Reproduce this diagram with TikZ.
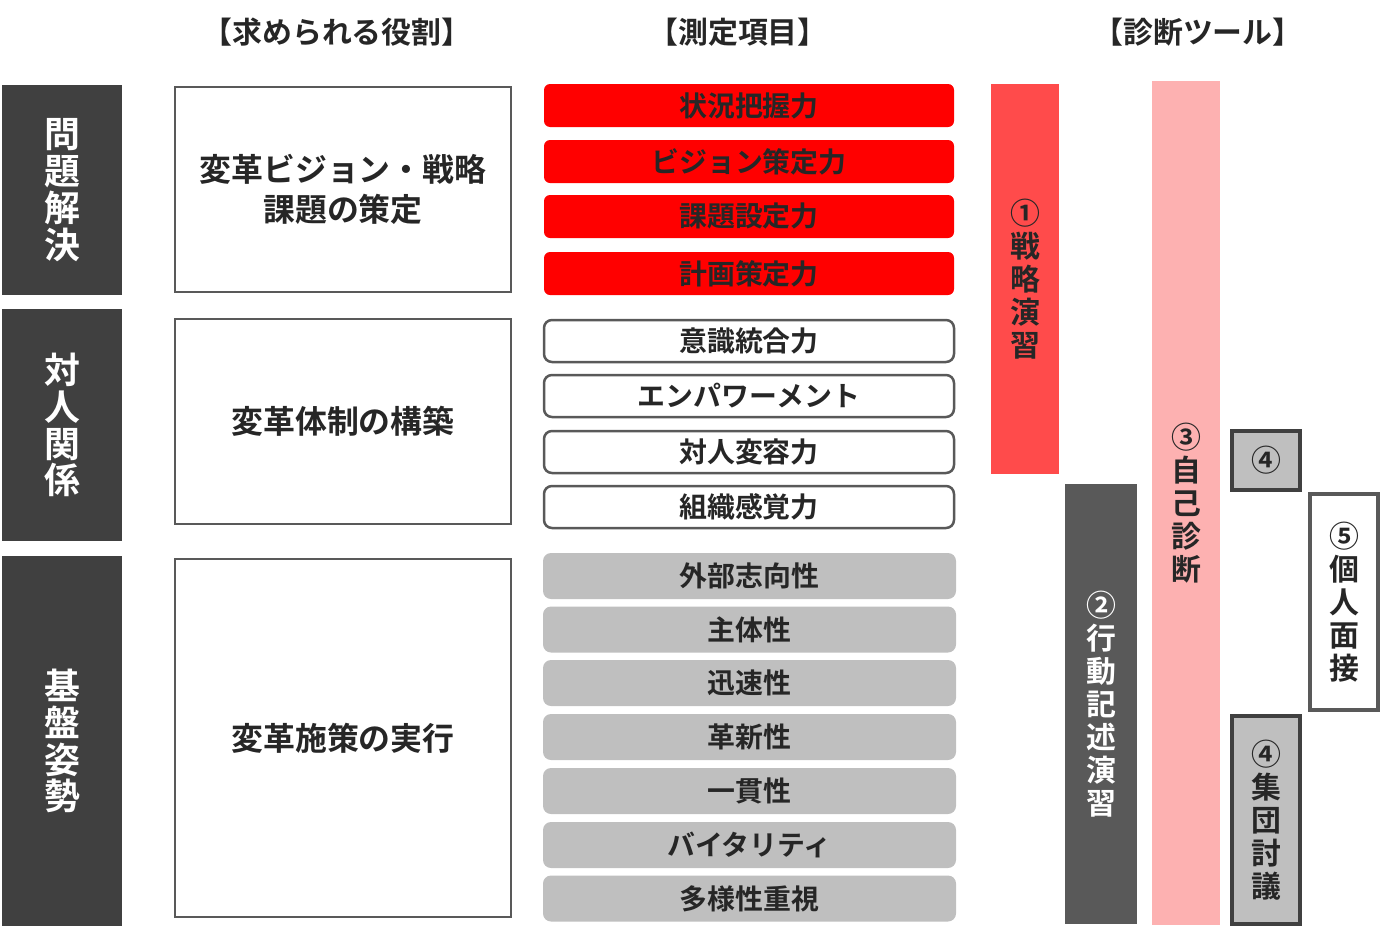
\documentclass[tikz,border=0pt]{standalone}
\usepackage{fontspec}
\usepackage{tikz}
\newfontfamily\jpb{Noto Sans CJK JP}[UprightFont=* Bold]
\definecolor{catgray}{HTML}{404040}
\definecolor{linegray}{HTML}{595959}
\definecolor{txtdark}{HTML}{262626}
\definecolor{itemred}{HTML}{FF0000}
\definecolor{itemgrey}{HTML}{BFBFBF}
\definecolor{toolred}{HTML}{FF4B4B}
\definecolor{toolpink}{HTML}{FDB1B1}
\tikzset{
    catbar/.style={fill=catgray, text=white, minimum width=120bp, inner sep=0pt,
        align=center, font=\jpb\fontsize{36}{37}\selectfont},
    rolebox/.style={draw=linegray, line width=2.5bp, fill=white, text=txtdark,
        minimum width=336bp, inner sep=0pt, align=center,
        font=\jpb\fontsize{32}{40}\selectfont},
    itembox/.style={minimum width=410bp, inner sep=0pt, text=txtdark,
        font=\jpb\fontsize{28}{30}\selectfont},
    head/.style={text=txtdark, inner sep=0pt, font=\jpb\fontsize{30}{32}\selectfont},
    toolbar/.style={inner sep=0pt, align=center, text=txtdark,
        font=\jpb\fontsize{30}{33}\selectfont}
}
\begin{document}
\begin{tikzpicture}[x=1bp, y=-1bp]
    \useasboundingbox (0,0) rectangle (1381,927);
    % headers
    \node[head] (hrole) at (337,32) {【求められる役割】};
    \node[head] (hitem) at (738,32) {【測定項目】};
    \node[head] (htool) at (1198,32) {【診断ツール】};
    % categories
    \node[catbar, minimum height=210bp] (solve) at (62,190) {問\\題\\解\\決};
    \node[catbar, minimum height=232bp] (inter) at (62,425) {対\\人\\関\\係};
    \node[catbar, minimum height=370bp] (base) at (62,741) {基\\盤\\姿\\勢};
    % roles
    \node[rolebox, minimum height=205bp] (role1) at (343,189.5)
        {変革ビジョン・戦略\\課題の策定};
    \node[rolebox, minimum height=205bp] (role2) at (343,421.5) {変革体制の構築};
    \node[rolebox, minimum height=358bp] (role3) at (343,738) {変革施策の実行};
    % items
    \foreach \y/\t [count=\i] in {105.5/状況把握力, 161.5/ビジョン策定力,
        216.5/課題設定力, 273.5/計画策定力} {
        \node[itembox, fill=itemred, rounded corners=6bp, minimum height=43bp]
            (red\i) at (749,\y) {\t};
    }
    \foreach \y/\t [count=\i] in {341/意識統合力, 396/エンパワーメント,
        452/対人変容力, 507/組織感覚力} {
        \node[itembox, draw=linegray, line width=2.5bp, fill=white,
            rounded corners=8bp, minimum height=42bp] (white\i) at (749,\y) {\t};
    }
    \foreach \y/\t [count=\i] in {576/外部志向性, 629.5/主体性, 683/迅速性,
        737/革新性, 791/一貫性, 845/バイタリティ, 898.5/多様性重視} {
        \node[itembox, fill=itemgrey, rounded corners=8bp, minimum width=413bp,
            minimum height=46bp] (grey\i) at (749.5,\y) {\t};
    }
    % tools
    \node[toolbar, fill=toolred, minimum width=68bp, minimum height=390bp]
        (tool1) at (1025,279) {①\\戦\\略\\演\\習};
    \node[toolbar, fill=linegray, text=white, minimum width=72bp,
        minimum height=440bp] (tool2) at (1101,704) {②\\行\\動\\記\\述\\演\\習};
    \node[toolbar, fill=toolpink, minimum width=68bp, minimum height=844bp]
        (tool3) at (1186,503) {③\\自\\己\\診\\断};
    \node[toolbar, fill=itemgrey, draw=catgray, line width=4bp, minimum width=68bp,
        minimum height=59bp] (tool4a) at (1266,460.5) {④};
    \node[toolbar, fill=white, draw=linegray, line width=3.5bp, minimum width=68bp,
        minimum height=216bp] (tool5) at (1344,602) {⑤\\個\\人\\面\\接};
    \node[toolbar, fill=itemgrey, draw=catgray, line width=4bp, minimum width=68bp,
        minimum height=208bp] (tool4b) at (1266,820) {④\\集\\団\\討\\議};
\end{tikzpicture}
\end{document}
